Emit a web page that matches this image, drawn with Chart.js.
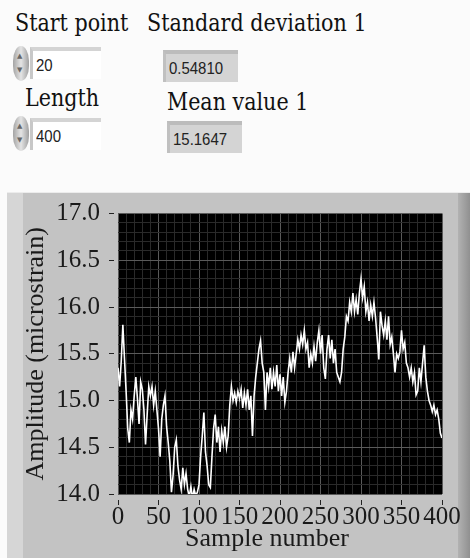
<!doctype html>
<html lang="en">
<head>
<meta charset="UTF-8">
<title>Amplitude vs sample number</title>
<script src="https://cdn.jsdelivr.net/npm/chart.js"></script>
<style>
  html, body { margin: 0; padding: 0; }
  body { width: 470px; height: 558px; position: relative; overflow: hidden; background: #fbfbfb; color: #111; }
  .lbl { position: absolute; font-family: "DejaVu Serif"; font-size: 24px; line-height: 24px; white-space: nowrap;
         transform: scaleX(0.86); transform-origin: left; }
  .lbl span { display: inline-block; font-family: "DejaVu Serif"; }
  .spin { position: absolute; left: 13px; width: 16px; height: 35px; border-radius: 8px / 15px;
          background: linear-gradient(90deg, #a4a4a4, #e4e4e4 50%, #a0a0a0); }
  .spin i { position: absolute; left: 4px; font: normal 7px "DejaVu Sans", sans-serif; color: #666; }
  .field { position: absolute; left: 30px; width: 68px; height: 28px; background: #fff;
           border-top: 4px solid #d4d4d4; border-left: 3px solid #c8c8c8; }
  .ind { position: absolute; width: 72px; height: 28px; background: #d4d4d4;
         border-top: 4px solid #bcbcbc; border-left: 3px solid #c0c0c0; }
  .num { position: absolute; left: 3px; top: 5px; font: 17px "Liberation Sans", sans-serif; transform: scaleX(0.88); transform-origin: left; color: #222; }
  #panel { position: absolute; left: 7px; top: 192px; width: 463px; height: 366px; background: #c3c3c3; border-top: 1px solid #ececec; box-sizing: border-box; }
  #lstrip { position: absolute; left: 7px; top: 193px; width: 16px; height: 365px; background: #d6d6d6; }
  #rstrip { position: absolute; left: 458px; top: 193px; width: 12px; height: 365px; background: linear-gradient(90deg, #b2b2b2, #909090); }
  #graph { position: absolute; left: 0; top: 192px; }
</style>
</head>
<body>
  <div class="lbl" style="left:15px; top:11px;"><span>Start</span> <span>point</span></div>
  <div class="lbl" style="left:147px; top:11px;"><span>Standard</span> <span>deviation</span> <span>1</span></div>
  <div class="spin" style="top:46px;"><i style="top:6px;">&#9650;</i><i style="top:20px;">&#9660;</i></div>
  <div class="field" style="top:47px;"><div class="num">20</div></div>
  <div class="ind" style="left:163px; top:50px;"><div class="num">0.54810</div></div>

  <div class="lbl" style="left:25px; top:86px;"><span>Length</span></div>
  <div class="lbl" style="left:167px; top:90px;"><span>Mean</span> <span>value</span> <span>1</span></div>
  <div class="spin" style="top:116px;"><i style="top:6px;">&#9650;</i><i style="top:20px;">&#9660;</i></div>
  <div class="field" style="top:118px;"><div class="num">400</div></div>
  <div class="ind" style="left:167px; top:121px;"><div class="num">15.1647</div></div>

  <div id="panel"></div>
  <div id="lstrip"></div>
  <div id="rstrip"></div>
  <canvas id="graph" width="470" height="366"></canvas>

<script>
// one value every 2 samples
const sampleStep = 2;
const amplitude = [
  15.35, 15.15, 15.42, 15.81, 15.45, 15.10, 14.70, 14.55, 14.90, 14.80,
  15.05, 15.25, 15.02, 14.75, 15.20, 15.12, 14.90, 14.53, 14.85, 15.15,
  15.05, 15.15, 14.95, 15.10, 14.90, 14.70, 14.40, 14.80, 14.95, 15.05,
  14.72, 14.55, 14.35, 14.02, 14.20, 14.50, 14.58, 14.30, 14.15, 14.05,
  14.28, 14.10, 14.22, 14.05, 13.97, 14.08, 13.95, 14.05, 13.98, 14.02,
  14.10, 14.40, 14.62, 14.87, 14.45, 14.30, 14.10, 14.07, 14.40, 14.70,
  14.85, 14.55, 14.72, 14.45, 14.68, 14.55, 14.72, 14.50, 14.62, 14.95,
  15.15, 15.00, 15.08, 14.98, 15.10, 15.02, 15.12, 14.92, 15.08, 14.95,
  15.12, 14.90, 15.05, 14.62, 15.05, 15.25, 15.40, 15.55, 15.64, 15.40,
  15.30, 14.90, 15.30, 15.15, 15.35, 15.12, 15.30, 15.15, 15.38, 15.10,
  15.28, 15.05, 15.25, 14.98, 15.10, 15.30, 15.45, 15.30, 15.52, 15.35,
  15.50, 15.65, 15.55, 15.70, 15.60, 15.75, 15.55, 15.62, 15.35, 15.50,
  15.40, 15.58, 15.42, 15.62, 15.75, 15.50, 15.70, 15.35, 15.23, 15.55,
  15.70, 15.45, 15.65, 15.40, 15.55, 15.30, 15.25, 15.20, 15.30, 15.55,
  15.68, 15.90, 15.85, 16.05, 15.95, 16.15, 15.95, 16.08, 15.92, 16.15,
  16.30, 16.10, 16.22, 15.95, 16.05, 15.85, 16.02, 15.90, 16.05, 15.88,
  15.67, 15.44, 15.95, 15.80, 15.70, 15.85, 15.65, 15.90, 15.60, 15.68,
  15.50, 15.30, 15.50, 15.45, 15.52, 15.75, 15.55, 15.62, 15.40, 15.35,
  15.25, 15.35, 15.20, 15.30, 15.06, 15.10, 15.35, 15.20, 15.40, 15.59,
  15.25, 15.10, 15.00, 14.95, 14.88, 14.95, 14.85, 14.90, 14.80, 14.65,
  14.60
];
const xTickLabels = [0, 50, 100, 150, 200, 250, 300, 350, 400];
const yTickLabels = ['14.0', '14.5', '15.0', '15.5', '16.0', '16.5', '17.0'];

const points = amplitude.map((v, i) => ({ x: i * sampleStep, y: v }));

const isMajorX = v => xTickLabels.includes(v);
const isMajorY = v => yTickLabels.includes(v.toFixed(1)) && Math.abs(v * 2 - Math.round(v * 2)) < 1e-6;

const plotBg = {
  id: 'plotBg',
  beforeDraw(chart) {
    const a = chart.chartArea;
    chart.ctx.save();
    chart.ctx.fillStyle = '#000';
    chart.ctx.fillRect(a.left, a.top, a.right - a.left, a.bottom - a.top);
    chart.ctx.restore();
  }
};

const serif = 'Liberation Serif';

new Chart(document.getElementById('graph'), {
  type: 'line',
  data: {
    datasets: [{
      data: points,
      borderColor: '#ffffff',
      borderWidth: 1.6,
      pointRadius: 0,
      tension: 0
    }]
  },
  options: {
    responsive: false,
    animation: false,
    devicePixelRatio: 1,
    layout: { padding: { top: 16, right: 28, left: 0, bottom: 0 } },
    plugins: { legend: { display: false }, tooltip: { enabled: false } },
    scales: {
      x: {
        type: 'linear',
        min: 0,
        max: 400,
        afterFit(scale) { scale.height = 64; },
        border: { display: false },
        grid: {
          color: c => isMajorX(c.tick.value) ? '#5a5a5a' : '#2a2a2a',
          lineWidth: 1,
          tickLength: 11,
          tickColor: c => isMajorX(c.tick.value) ? '#222' : 'rgba(0,0,0,0)',
          tickBorderDash: [0, 6, 5, 50]
        },
        ticks: {
          stepSize: 10,
          autoSkip: false,
          maxRotation: 0,
          minRotation: 0,
          padding: 0,
          color: '#1a1a1a',
          font: { family: serif, size: 25, lineHeight: 1 },
          callback: v => isMajorX(v) ? String(v) : ''
        },
        title: {
          display: true,
          text: 'Sample number    ',
          color: '#1a1a1a',
          font: { family: serif, size: 26 },
          padding: { top: 0, bottom: 3 }
        }
      },
      y: {
        min: 14,
        max: 17,
        afterFit(scale) { scale.width = 118; },
        border: { display: false },
        grid: {
          color: c => isMajorY(c.tick.value) ? '#5a5a5a' : '#2a2a2a',
          lineWidth: 1,
          tickLength: 9,
          tickColor: c => isMajorY(c.tick.value) ? '#222' : 'rgba(0,0,0,0)',
          tickBorderDash: [5, 50]
        },
        ticks: {
          stepSize: 0.1,
          autoSkip: false,
          padding: 9,
          color: '#1a1a1a',
          font: { family: serif, size: 25, lineHeight: 1 },
          callback: v => isMajorY(v) ? v.toFixed(1) : ''
        },
        title: {
          display: true,
          text: 'Amplitude (microstrain)',
          color: '#1a1a1a',
          font: { family: serif, size: 26 },
          padding: { top: 21, bottom: 0 }
        }
      }
    }
  },
  plugins: [plotBg]
});
</script>
</body>
</html>
